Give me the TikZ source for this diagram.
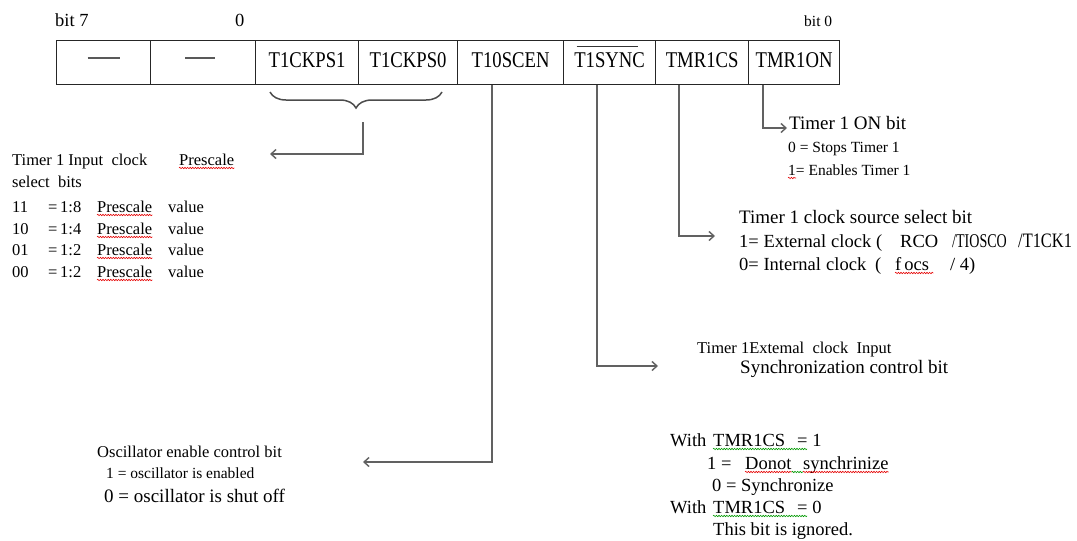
\documentclass[tikz,border=0pt]{standalone}
\usepackage{fontspec}
\setmainfont{Liberation Serif}
\newfontfamily\regfont{Liberation Serif}[FakeStretch=0.83]
\newfontfamily\condfont{Liberation Serif}[FakeStretch=0.8]
\newfontfamily\xcondfont{Liberation Serif}[FakeStretch=0.72]
\usetikzlibrary{arrows.meta,decorations.pathreplacing,decorations.pathmorphing}
\begin{document}
\begin{tikzpicture}[x=1pt,y=-1pt,
  cell/.style={draw=black!85, line width=1.2pt, minimum height=44pt, inner sep=0pt, text depth=5pt, anchor=north west, font=\regfont\fontsize{22.5}{24}\selectfont},
  lbl/.style={inner sep=0pt, anchor=base west},
  conn/.style={draw=black!62, line width=1.4pt, -{Straight Barb[length=5pt,width=9pt]}},
  squig/.style={decorate, decoration={snake, amplitude=0.7pt, segment length=2.6pt}, line width=0.6pt},
  sqred/.style={squig, draw=red!90!black},
  sqgreen/.style={squig, draw=green!60!black},
  fxs/.style={font=\fontsize{15.5}{17}\selectfont},
  fs/.style={font=\fontsize{16.5}{18}\selectfont},
  fm/.style={font=\fontsize{18.5}{20}\selectfont},
  fc/.style={font=\condfont\fontsize{20.5}{22}\selectfont},
  fxc/.style={font=\xcondfont\fontsize{19.5}{21}\selectfont},
  fl/.style={font=\fontsize{19}{21}\selectfont}
]
\useasboundingbox (0,0) rectangle (1077,541);

% register
\node[cell, minimum width=94pt] (c7) at (56,40) {};
\node[cell, minimum width=105pt] (c6) at (150,40) {};
\node[cell, minimum width=103pt] (c5) at (255,40) {T1CKPS1};
\node[cell, minimum width=99pt] (c4) at (358,40) {T1CKPS0};
\node[cell, minimum width=106pt] (c3) at (457,40) {T10SCEN};
\node[cell, minimum width=92pt] (c2) at (563,40) {T1SYNC};
\node[cell, minimum width=93pt] (c1) at (655,40) {TMR1CS};
\node[cell, minimum width=91pt] (c0) at (748,40) {TMR1ON};
\draw[black!65, line width=1.3pt] ([xshift=-16pt,yshift=4.5pt]c7.center) -- ++(32,0);
\draw[black!65, line width=1.3pt] ([xshift=-18pt,yshift=4.5pt]c6.center) -- ++(30,0);
\draw[black!80, line width=1pt] ([xshift=-33pt,yshift=16.5pt]c2.center) -- ++(61,0);

\node[lbl, fm] (b7) at (55,26) {bit 7};
\node[lbl, fm] (b7z) at (235,26) {0};
\node[lbl, fxs] (b0) at (804,26) {bit 0};

% brace
\draw[draw=black!70, line width=1.5pt, decorate, decoration={brace, mirror, amplitude=16pt}] (270,92) -- (442,92);
\coordinate (bt) at (363,122);
\coordinate (ba) at (270,154);
\draw[conn] (bt) |- (ba);

% connectors
\coordinate (x0) at (763,0);
\coordinate (x1) at (679,0);
\coordinate (x2) at (597,0);
\coordinate (x3) at (492,0);
\coordinate (a0) at (787,128);
\coordinate (a1) at (715,236);
\coordinate (a2) at (658,366);
\coordinate (a3) at (363,462);
\draw[conn] (c0.south -| x0) |- (a0);
\draw[conn] (c1.south -| x1) |- (a1);
\draw[conn] (c2.south -| x2) |- (a2);
\draw[conn] (c3.south -| x3) |- (a3);

% left block
\node[lbl, fs] (l1a) at (12,165) {Timer 1 Input\ \ clock};
\node[lbl, fs] (l1b) at (179,165) {Prescale};
\node[lbl, fs] (l2) at (12,187) {select\ \ bits};
\node[lbl, fs] (r1a) at (12,212) {11};
\node[lbl, fs] (r1b) at (48,212) {=\,1:8};
\node[lbl, fs] (r1c) at (97,212) {Prescale};
\node[lbl, fs] (r1d) at (168,212) {value};
\node[lbl, fs] (r2a) at (12,234) {10};
\node[lbl, fs] (r2b) at (48,234) {=\,1:4};
\node[lbl, fs] (r2c) at (97,234) {Prescale};
\node[lbl, fs] (r2d) at (168,234) {value};
\node[lbl, fs] (r3a) at (12,255) {01};
\node[lbl, fs] (r3b) at (48,255) {=\,1:2};
\node[lbl, fs] (r3c) at (97,255) {Prescale};
\node[lbl, fs] (r3d) at (168,255) {value};
\node[lbl, fs] (r4a) at (12,277) {00};
\node[lbl, fs] (r4b) at (48,277) {=\,1:2};
\node[lbl, fs] (r4c) at (97,277) {Prescale};
\node[lbl, fs] (r4d) at (168,277) {value};
\foreach \n in {l1b,r1c,r2c,r3c,r4c}
  \draw[sqred] ([yshift=-3pt]\n.base west) -- ([yshift=-3pt]\n.base east);

% oscillator block
\node[lbl, fs] (o1) at (97,457) {Oscillator enable control bit};
\node[lbl, fxs] (o2) at (106,478) {1 = oscillator is enabled};
\node[lbl, fl] (o3) at (104,502) {0 = oscillator is shut off};

% TMR1ON block
\node[lbl, fl] (n1) at (789,129) {Timer 1 ON bit};
\node[lbl, fxs] (n2) at (788,152) {0 = Stops Timer 1};
\node[lbl, fxs] (n3) at (788,175) {1= Enables Timer 1};
\draw[sqred] ([yshift=-3pt]n3.base west) -- ++(8,0);

% TMR1CS block
\node[lbl, fl] (s1) at (739,223) {Timer 1 clock source select bit};
\node[lbl, fm] (s2a) at (739,247) {1= External};
\node[lbl, fm] (s2b) at (831,247) {clock};
\node[lbl, fm] (s2c) at (876,247) {(};
\node[lbl, fm] (s2d) at (900,247) {RCO};
\node[lbl, fxc] (s2e) at (952,247) {/TIOSCO};
\node[lbl, fc] (s2f) at (1018,247) {/T1CK1};
\node[lbl, fm] (s3a) at (739,270) {0= Internal};
\node[lbl, fm] (s3b) at (826,270) {clock};
\node[lbl, fm] (s3c) at (875,270) {(};
\node[lbl, fm] (s3d) at (895,270) {f\,ocs};
\node[lbl, fm] (s3f) at (950,270) {/ 4)};
\draw[sqred] ([yshift=-3pt]s3d.base west) -- ([xshift=4pt,yshift=-3pt]s3d.base east);

% T1SYNC block
\node[lbl, fs] (y1) at (697,353) {Timer 1Extemal\ \ clock\ \ Input};
\node[lbl, fl] (y2) at (740,373) {Synchronization control bit};
\node[lbl, fm] (w1a) at (670,446) {With};
\node[lbl, fm] (w1b) at (713,446) {TMR1CS};
\node[lbl, fm] (w1c) at (797,446) {= 1};
\node[lbl, fm] (d1) at (707,469) {1 =};
\node[lbl, fm] (d2) at (745,469) {Donot};
\node[lbl, fm] (d3) at (803,469) {synchrinize};
\node[lbl, fm] (z1) at (712,491) {0 = Synchronize};
\node[lbl, fm] (w2a) at (670,513) {With};
\node[lbl, fm] (w2b) at (713,513) {TMR1CS};
\node[lbl, fm] (w2c) at (797,513) {= 0};
\node[lbl, fm] (t1) at (713,535) {This bit is ignored.};
\draw[sqgreen] ([yshift=-3pt]w1b.base west) -- ([xshift=10pt,yshift=-3pt]w1c.base west);
\draw[sqgreen] ([yshift=-3pt]w2b.base west) -- ([xshift=10pt,yshift=-3pt]w2c.base west);
\draw[sqred] ([yshift=-3pt]d2.base west) -- ([yshift=-3pt]d2.base east);
\draw[sqgreen] ([yshift=-3pt]d2.base east) -- ([yshift=-3pt]d3.base west);
\draw[sqred] ([yshift=-3pt]d3.base west) -- ([yshift=-3pt]d3.base east);
\end{tikzpicture}
\end{document}
